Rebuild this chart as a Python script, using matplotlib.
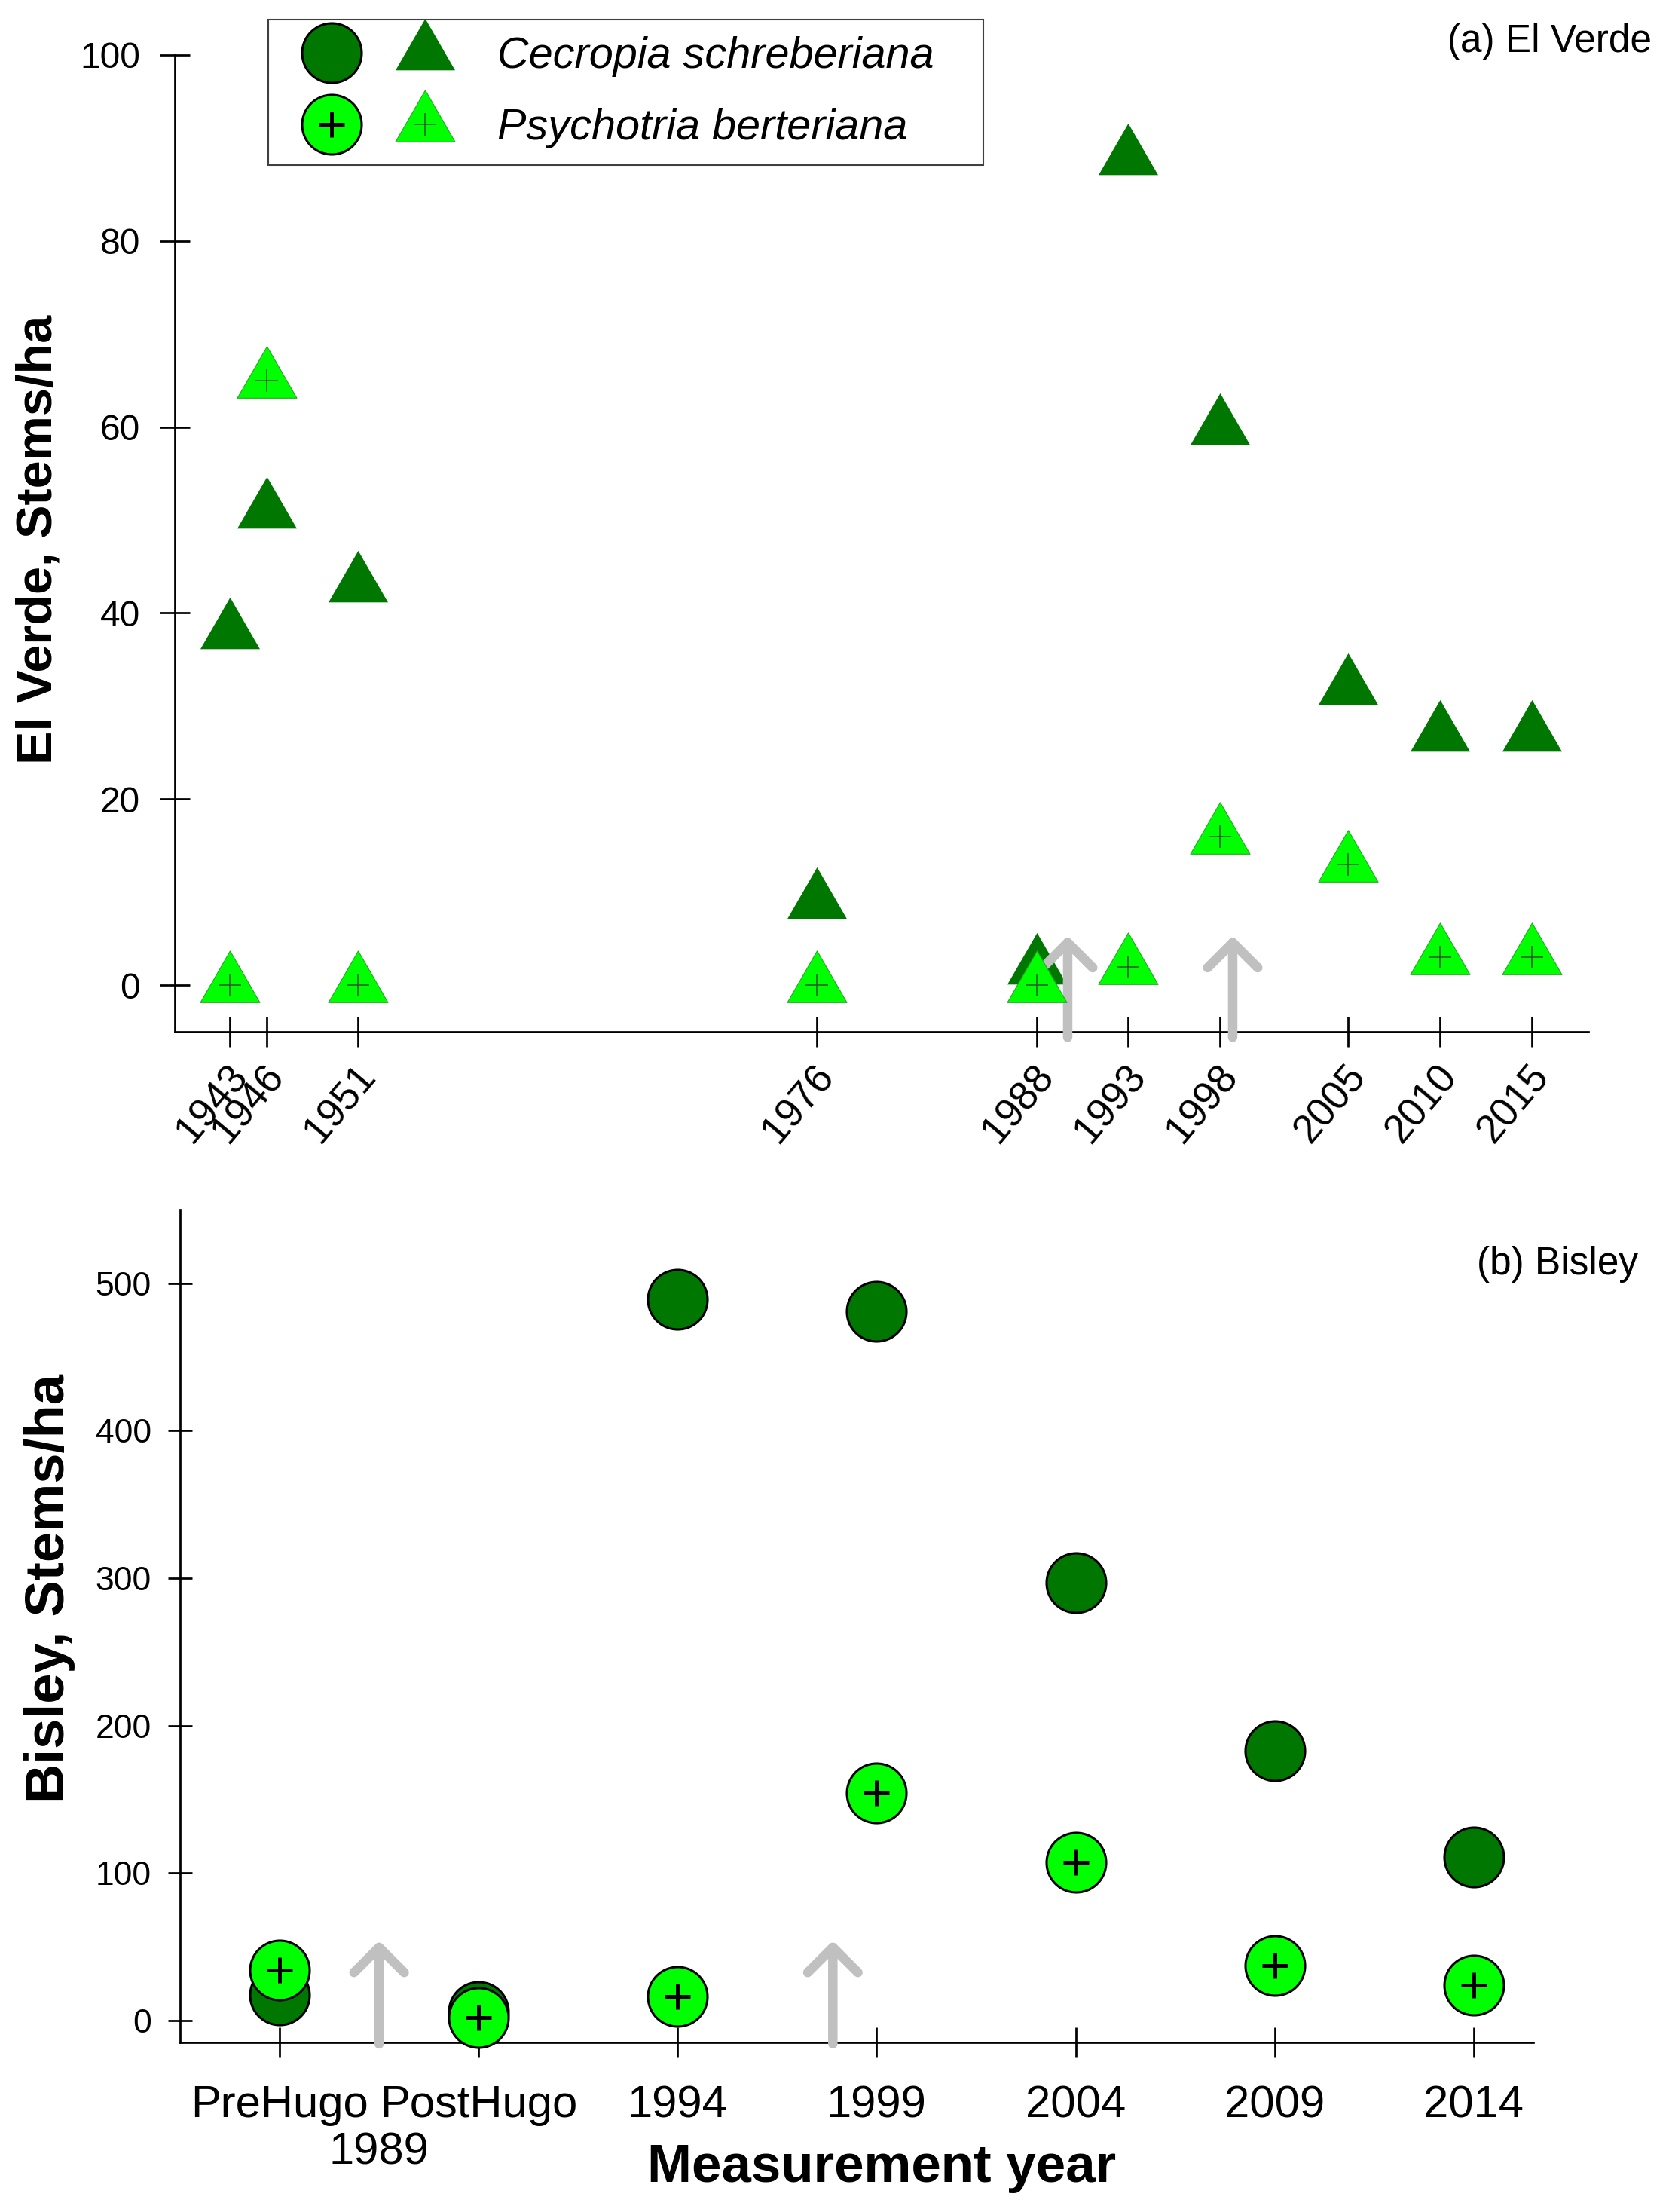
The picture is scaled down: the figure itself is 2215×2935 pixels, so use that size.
import numpy as np
import matplotlib
matplotlib.use("Agg")
import matplotlib.pyplot as plt
from matplotlib.path import Path
from matplotlib.patches import FancyArrowPatch
from matplotlib.lines import Line2D
from matplotlib.legend_handler import HandlerTuple
from matplotlib.transforms import ScaledTranslation

plt.rcParams['font.family'] = ['Liberation Sans', 'DejaVu Sans']

# (a) El Verde, stems per ha
ev_labels = ["1943", "1946", "1951", "1976", "1988", "1993", "1998", "2005", "2010", "2015"]
ev_years = [1944, 1946, 1951, 1976, 1988, 1993, 1998, 2005, 2010, 2015]   # 1943 survey sits at 1944 in the original
ev_cecropia = [38, 51, 43, 9, 2, 89, 60, 32, 27, 27]
ev_psychotria = [0, 65, 0, 0, 0, 2, 16, 13, 3, 3]
ev_hurricanes = [1989.7, 1998.7]      # Hugo, Georges

# (b) Bisley, stems per ha
bis_labels = ["PreHugo", "PostHugo", "1994", "1999", "2004", "2009", "2014"]
bis_cecropia = [17, 6, 489, 481, 297, 183, 111]
bis_psychotria = [34, 2, 16, 154, 107, 37, 24]
bis_hurricanes = [0.5, 2.78]

DARK = '#007700'
LIGHT = '#00ff00'
GREY = '#c0c0c0'

W, H = 2215, 2935
fig = plt.figure(figsize=(W / 100, H / 100), dpi=100)

# triangle marker centred on its centroid (like the original)
h = np.sqrt(3) / 2
tri = Path([(0, 2 * h / 3), (-0.5, -h / 3), (0.5, -h / 3), (0, 2 * h / 3)],
           [Path.MOVETO, Path.LINETO, Path.LINETO, Path.CLOSEPOLY])
TRI_MS = 65.7
CIRC_MS = 56.9


def style_axes(ax):
    for s in ['top', 'right']:
        ax.spines[s].set_visible(False)
    for s in ['left', 'bottom']:
        ax.spines[s].set_linewidth(1.95)


def hurricane_arrow(ax, x, y0, y1):
    arr = FancyArrowPatch((x, y0), (x, y1), arrowstyle='->,head_length=24,head_width=24',
                          mutation_scale=1, lw=9, color=GREY, shrinkA=0, shrinkB=0,
                          capstyle='round', joinstyle='round', zorder=4, clip_on=False)
    ax.add_patch(arr)


# ---------- panel (a) ----------
ax1 = fig.add_axes([232 / W, 1 - 1369 / H, (2108 - 232) / W, (1369 - 72.7) / H])
style_axes(ax1)
ax1.set_xlim(1941, 2018.1)
ax1.set_ylim(-5, 100)

ax1.plot(ev_years, ev_cecropia, ls='none', marker=tri, ms=TRI_MS, mfc=DARK, mec=DARK,
         mew=0, zorder=3, clip_on=False)
for x in ev_hurricanes:
    hurricane_arrow(ax1, x, -5.6, 5.3)
ax1.plot(ev_years, ev_psychotria, ls='none', marker=tri, ms=TRI_MS, mfc=LIGHT, mec='#22aa22',
         mew=0.8, zorder=5, clip_on=False)
ax1.plot(ev_years, ev_psychotria, ls='none', marker='+', ms=21.6, mec='#335533', mew=1.1,
         zorder=6, clip_on=False)

ax1.set_yticks(range(0, 101, 20))
ax1.tick_params(axis='y', direction='inout', length=29, width=1.95, pad=18.5, labelsize=34.5)
ax1.set_xticks(ev_years)
ax1.set_xticklabels(ev_labels, rotation=50, ha='right', va='center', rotation_mode='anchor')
ax1.tick_params(axis='x', direction='inout', length=29, width=1.95, pad=22, labelsize=38)
shift = ScaledTranslation(14 / 100, 0, fig.dpi_scale_trans)
for lab in ax1.get_xticklabels():
    lab.set_transform(lab.get_transform() + shift)

# legend: circle + triangle for each species
c_dark = Line2D([], [], ls='none', marker='o', ms=CIRC_MS, mfc=DARK, mec='black', mew=2.2)
t_dark = Line2D([], [], ls='none', marker=tri, ms=TRI_MS, mfc=DARK, mec=DARK, mew=0)
c_light = Line2D([], [], ls='none', marker='o', ms=CIRC_MS, mfc=LIGHT, mec='black', mew=2.2)
c_plus = Line2D([], [], ls='none', marker='+', ms=23.8, mec='black', mew=3.6)
t_light = Line2D([], [], ls='none', marker=tri, ms=TRI_MS, mfc=LIGHT, mec='#22aa22', mew=0.8)
t_plus = Line2D([], [], ls='none', marker='+', ms=21.6, mec='#335533', mew=1.1)
row1 = (c_dark, t_dark)
row2 = ((c_light, c_plus), (t_light, t_plus))
leg = ax1.legend([row1, row2], ['Cecropia schreberiana', 'Psychotria berteriana'],
                 handler_map={row1: HandlerTuple(ndivide=None, pad=0),
                              row2: HandlerTuple(ndivide=None, pad=0)},
                 loc='upper left',
                 bbox_to_anchor=(356 / W, 1 - 26 / H - 0.01, (1305 - 356) / W, 0.01),
                 bbox_transform=fig.transFigure, mode='expand', borderaxespad=0,
                 prop={'style': 'italic', 'size': 41.5}, handlelength=4.3, handletextpad=0.6,
                 borderpad=0.38, labelspacing=0.72, fancybox=False, framealpha=1,
                 edgecolor='#404040')
leg.get_frame().set_linewidth(1.5)

fig.text(2192 / W, 1 - 55 / H, '(a) El Verde', ha='right', va='center', fontsize=37)
fig.text(52 / W, 1 - 716 / H, 'El Verde, Stems/ha', rotation=90, ha='center', va='center',
         fontsize=48, fontweight='bold')

# ---------- panel (b) ----------
ax2 = fig.add_axes([239 / W, 1 - 2710 / H, (2035 - 239) / W, (2710 - 1605) / H])
style_axes(ax2)
ax2.set_xlim(-0.5, 6.3)
ax2.set_ylim(-15, 550)
xb = np.arange(len(bis_labels))

ax2.plot(xb, bis_cecropia, ls='none', marker='o', ms=CIRC_MS, mfc=DARK, mec='black', mew=2.2,
         zorder=3, clip_on=False)
ax2.plot(xb, bis_psychotria, ls='none', marker='o', ms=CIRC_MS, mfc=LIGHT, mec='black', mew=2.2,
         zorder=5, clip_on=False)
ax2.plot(xb, bis_psychotria, ls='none', marker='+', ms=23.8, mec='black', mew=3.6,
         zorder=6, clip_on=False)
for x in bis_hurricanes:
    hurricane_arrow(ax2, x, -16, 54)

ax2.set_yticks(range(0, 501, 100))
ax2.tick_params(axis='y', direction='inout', length=23, width=1.95, pad=16, labelsize=32)
ax2.set_xticks(xb)
ax2.set_xticklabels(bis_labels)
ax2.tick_params(axis='x', which='major', direction='inout', length=29, width=1.95, pad=26,
                labelsize=43)
ax2.set_xticks([0.5], minor=True)
ax2.set_xticklabels(['1989'], minor=True)
ax2.tick_params(axis='x', which='minor', length=0, pad=85, labelsize=43)

fig.text(2174 / W, 1 - 1678 / H, '(b) Bisley', ha='right', va='center', fontsize=37)
fig.text(66 / W, 1 - 2108 / H, 'Bisley, Stems/ha', rotation=90, ha='center', va='center',
         fontsize=52, fontweight='bold')
fig.text(1170 / W, 1 - 2877 / H, 'Measurement year', ha='center', va='center',
         fontsize=51, fontweight='bold')

fig.savefig('out.png', dpi=100)
